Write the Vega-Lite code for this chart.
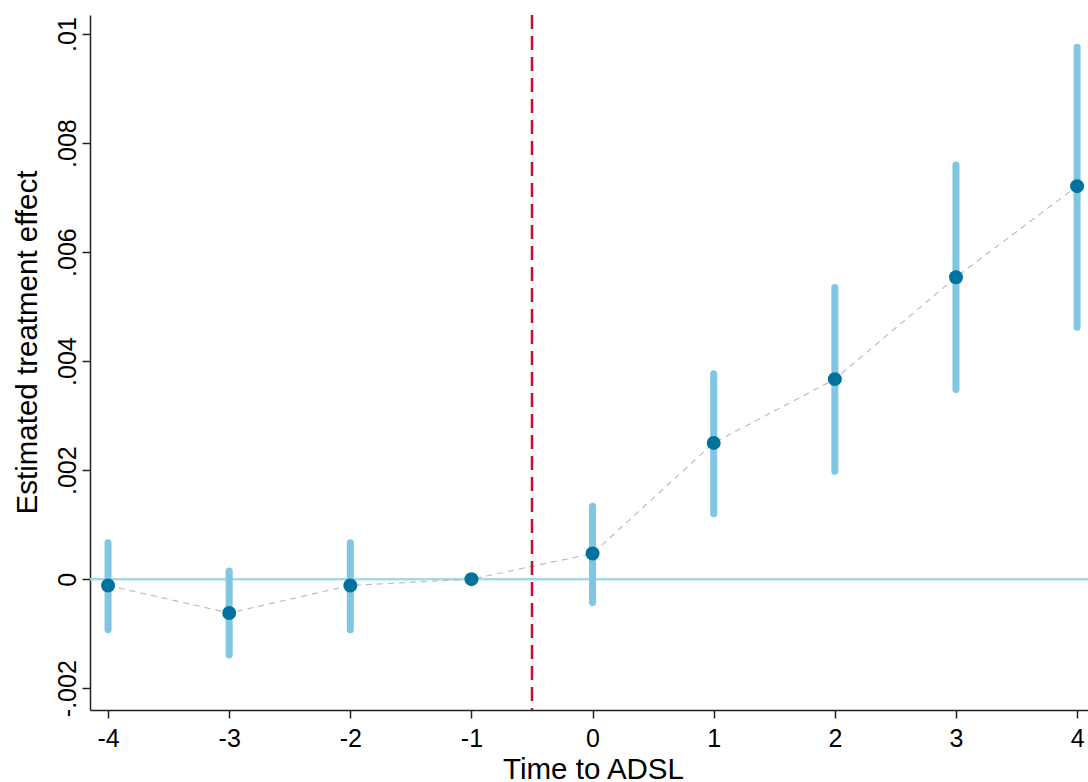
{
  "$schema": "https://vega.github.io/schema/vega-lite/v6.json",
  "width": 998,
  "height": 695,
  "autosize": {"type": "none"},
  "padding": {"left": 90, "top": 15, "right": 0, "bottom": 72},
  "background": "white",
  "config": {
    "view": {"stroke": null},
    "font": "Liberation Sans",
    "axis": {"grid": false, "domainColor": "#222222", "domainWidth": 1.5, "tickColor": "#222222", "tickWidth": 1.5, "tickSize": 8, "labelFont": "Liberation Sans", "titleFont": "Liberation Sans", "labelFontSize": 25, "titleFontSize": 29.5, "labelColor": "#000000", "titleColor": "#000000", "titleFontWeight": "normal"}
  },
  "datasets": {
    "est": [
      {"t": -4, "b": -0.000115, "lo": -0.00093, "hi": 0.00067},
      {"t": -3, "b": -0.00062, "lo": -0.00139, "hi": 0.00015},
      {"t": -2, "b": -0.000115, "lo": -0.00093, "hi": 0.00067},
      {"t": -1, "b": 0, "lo": 0, "hi": 0},
      {"t": 0, "b": 0.00047, "lo": -0.00043, "hi": 0.00134},
      {"t": 1, "b": 0.0025, "lo": 0.0012, "hi": 0.00377},
      {"t": 2, "b": 0.00367, "lo": 0.00198, "hi": 0.00535},
      {"t": 3, "b": 0.00554, "lo": 0.00348, "hi": 0.0076},
      {"t": 4, "b": 0.00721, "lo": 0.00462, "hi": 0.00976}
    ],
    "refs": [{"zero": 0, "cut": -0.5}]
  },
  "layer": [
    {
      "data": {"name": "refs"},
      "mark": {"type": "rule", "color": "#a7d8e6", "strokeWidth": 2.5},
      "encoding": {"y": {"field": "zero", "type": "quantitative", "scale": {"domain": [-0.0024, 0.01035], "nice": false, "zero": false}}}
    },
    {
      "data": {"name": "est"},
      "transform": [{"filter": "datum.hi > datum.lo"}],
      "mark": {"type": "rule", "color": "#80c6e0", "strokeWidth": 7, "strokeCap": "round"},
      "encoding": {
        "x": {"field": "t", "type": "quantitative"},
        "y": {"field": "lo", "type": "quantitative"},
        "y2": {"field": "hi"}
      }
    },
    {
      "data": {"name": "est"},
      "mark": {"type": "line", "color": "#bdbdbd", "strokeWidth": 1.2, "strokeDash": [6, 5]},
      "encoding": {
        "x": {"field": "t", "type": "quantitative"},
        "y": {"field": "b", "type": "quantitative"}
      }
    },
    {
      "data": {"name": "refs"},
      "mark": {"type": "rule", "color": "#c8102e", "strokeWidth": 2.5, "strokeDash": [14, 7]},
      "encoding": {"x": {"field": "cut", "type": "quantitative"}}
    },
    {
      "data": {"name": "est"},
      "mark": {"type": "point", "filled": true, "color": "#00729b", "opacity": 1, "size": 195},
      "encoding": {
        "x": {
          "field": "t", "type": "quantitative",
          "scale": {"domain": [-4.149, 4.09], "nice": false, "zero": false},
          "axis": {"values": [-4, -3, -2, -1, 0, 1, 2, 3, 4], "title": "Time to ADSL", "labelPadding": 8, "labelBaseline": "top", "labelExpr": "replace(format(datum.value, 'd'), '\u2212', '-')", "titleX": 503, "titleY": 68, "titleAlign": "center", "titleBaseline": "alphabetic"}
        },
        "y": {
          "field": "b", "type": "quantitative",
          "axis": {"values": [-0.002, 0, 0.002, 0.004, 0.006, 0.008, 0.01], "title": "Estimated treatment effect", "labelAngle": -90, "labelAlign": "center", "labelBaseline": "alphabetic", "labelPadding": 7, "labelExpr": "datum.value == 0 ? '0' : replace(replace(format(datum.value, '.3~f'), '\u2212', '-'), '0.', '.')", "titleAngle": -90, "titleX": -54, "titleY": 327, "titleAlign": "center", "titleBaseline": "alphabetic"}
        }
      }
    }
  ]
}
